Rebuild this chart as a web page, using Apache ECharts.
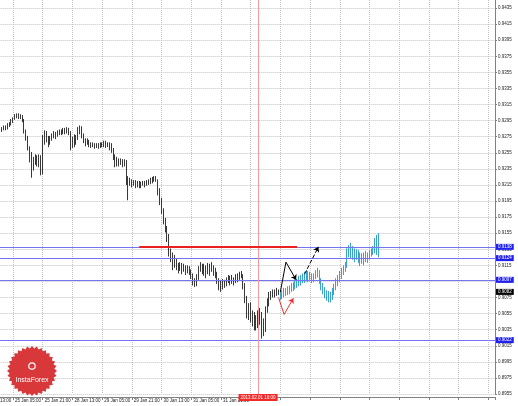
<!DOCTYPE html>
<html>
<head>
<meta charset="utf-8">
<script src="https://cdn.jsdelivr.net/npm/echarts@6/dist/echarts.min.js"></script>
<style>
  html, body { margin: 0; padding: 0; background: #fff; }
  #chart { width: 518px; height: 406px; }
</style>
</head>
<body>
<div id="chart"></div>
<script>
// hourly bars, index 0 = 25 Jan 05:00, first bar = index -7
const firstIndex = -7;
// [open, close, low, high]
const hourlyBars = [
  [0.9286, 0.9283, 0.9281, 0.9288], [0.9283, 0.9284, 0.9281, 0.9287], [0.9284, 0.9287, 0.9283, 0.9289],
  [0.9287, 0.9286, 0.9283, 0.9289], [0.9286, 0.9289, 0.9284, 0.9292], [0.9289, 0.9291, 0.9287, 0.9293],
  [0.9291, 0.9294, 0.9289, 0.9297], [0.9294, 0.9297, 0.9292, 0.9299], [0.9297, 0.9301, 0.9296, 0.9303],
  [0.9301, 0.9302, 0.9298, 0.9304], [0.9302, 0.9299, 0.9297, 0.9304], [0.9299, 0.9301, 0.9297, 0.9303],
  [0.9301, 0.9296, 0.9293, 0.9302], [0.9296, 0.9282, 0.9279, 0.9297], [0.9282, 0.9273, 0.9270, 0.9284],
  [0.9273, 0.9261, 0.9258, 0.9276], [0.9261, 0.9248, 0.9243, 0.9263], [0.9248, 0.9236, 0.9224, 0.9256],
  [0.9236, 0.9243, 0.9233, 0.9250], [0.9243, 0.9248, 0.9240, 0.9253], [0.9248, 0.9242, 0.9238, 0.9252],
  [0.9242, 0.9248, 0.9237, 0.9253], [0.9248, 0.9233, 0.9227, 0.9252], [0.9233, 0.9271, 0.9228, 0.9277],
  [0.9271, 0.9279, 0.9265, 0.9283], [0.9279, 0.9273, 0.9268, 0.9282],
  // 28 Jan
  [0.9273, 0.9268, 0.9262, 0.9276], [0.9268, 0.9272, 0.9265, 0.9276], [0.9272, 0.9276, 0.9270, 0.9279],
  [0.9276, 0.9278, 0.9273, 0.9282], [0.9278, 0.9276, 0.9272, 0.9281], [0.9276, 0.9279, 0.9275, 0.9283],
  [0.9279, 0.9281, 0.9277, 0.9284], [0.9281, 0.9279, 0.9277, 0.9284], [0.9279, 0.9282, 0.9278, 0.9286],
  [0.9282, 0.9281, 0.9278, 0.9286], [0.9281, 0.9283, 0.9279, 0.9287], [0.9283, 0.9279, 0.9277, 0.9286],
  [0.9279, 0.9265, 0.9258, 0.9282], [0.9265, 0.9271, 0.9261, 0.9275], [0.9271, 0.9267, 0.9262, 0.9278],
  [0.9267, 0.9273, 0.9265, 0.9277], [0.9273, 0.9283, 0.9271, 0.9287], [0.9283, 0.9286, 0.9278, 0.9289],
  [0.9286, 0.9277, 0.9273, 0.9288], [0.9277, 0.9271, 0.9267, 0.9279], [0.9271, 0.9268, 0.9263, 0.9273],
  [0.9268, 0.9270, 0.9265, 0.9273], [0.9270, 0.9266, 0.9262, 0.9271], [0.9266, 0.9265, 0.9261, 0.9268],
  // 29 Jan
  [0.9265, 0.9266, 0.9262, 0.9268], [0.9266, 0.9263, 0.9260, 0.9267], [0.9263, 0.9265, 0.9261, 0.9267],
  [0.9265, 0.9263, 0.9260, 0.9267], [0.9263, 0.9266, 0.9261, 0.9268], [0.9266, 0.9265, 0.9262, 0.9268],
  [0.9265, 0.9267, 0.9262, 0.9270], [0.9267, 0.9265, 0.9261, 0.9270], [0.9265, 0.9266, 0.9262, 0.9268],
  [0.9266, 0.9263, 0.9258, 0.9268], [0.9263, 0.9258, 0.9255, 0.9267], [0.9258, 0.9250, 0.9246, 0.9261],
  [0.9250, 0.9243, 0.9237, 0.9253], [0.9243, 0.9246, 0.9238, 0.9250], [0.9246, 0.9242, 0.9238, 0.9248],
  [0.9242, 0.9245, 0.9240, 0.9248], [0.9245, 0.9241, 0.9237, 0.9247], [0.9241, 0.9243, 0.9238, 0.9247],
  [0.9243, 0.9221, 0.9215, 0.9246], [0.9221, 0.9217, 0.9196, 0.9226], [0.9217, 0.9220, 0.9214, 0.9224],
  [0.9220, 0.9216, 0.9212, 0.9222], [0.9216, 0.9219, 0.9214, 0.9221], [0.9219, 0.9215, 0.9211, 0.9221],
  // 30 Jan
  [0.9215, 0.9217, 0.9212, 0.9220], [0.9217, 0.9214, 0.9211, 0.9220], [0.9214, 0.9216, 0.9211, 0.9219],
  [0.9216, 0.9217, 0.9214, 0.9220], [0.9217, 0.9215, 0.9212, 0.9220], [0.9215, 0.9217, 0.9214, 0.9221],
  [0.9217, 0.9219, 0.9215, 0.9222], [0.9219, 0.9220, 0.9216, 0.9224], [0.9220, 0.9221, 0.9217, 0.9225],
  [0.9221, 0.9224, 0.9219, 0.9226], [0.9224, 0.9221, 0.9219, 0.9226], [0.9221, 0.9209, 0.9202, 0.9222],
  [0.9209, 0.9196, 0.9190, 0.9211], [0.9196, 0.9184, 0.9179, 0.9199], [0.9184, 0.9171, 0.9166, 0.9186],
  [0.9171, 0.9161, 0.9156, 0.9174], [0.9161, 0.9151, 0.9144, 0.9164], [0.9151, 0.9134, 0.9126, 0.9154],
  [0.9134, 0.9124, 0.9119, 0.9136], [0.9124, 0.9117, 0.9109, 0.9131], [0.9117, 0.9119, 0.9112, 0.9128],
  [0.9119, 0.9114, 0.9109, 0.9123], [0.9114, 0.9112, 0.9105, 0.9118], [0.9112, 0.9115, 0.9108, 0.9119],
  // 31 Jan
  [0.9115, 0.9110, 0.9104, 0.9118], [0.9110, 0.9113, 0.9107, 0.9117], [0.9113, 0.9109, 0.9103, 0.9115],
  [0.9109, 0.9112, 0.9105, 0.9115], [0.9112, 0.9108, 0.9103, 0.9114], [0.9108, 0.9103, 0.9098, 0.9110],
  [0.9103, 0.9095, 0.9090, 0.9105], [0.9095, 0.9092, 0.9088, 0.9099], [0.9092, 0.9099, 0.9089, 0.9104],
  [0.9099, 0.9109, 0.9097, 0.9114], [0.9109, 0.9114, 0.9107, 0.9119], [0.9114, 0.9109, 0.9104, 0.9117],
  [0.9109, 0.9112, 0.9102, 0.9117], [0.9112, 0.9107, 0.9099, 0.9115], [0.9107, 0.9114, 0.9104, 0.9118],
  [0.9114, 0.9109, 0.9102, 0.9117], [0.9109, 0.9113, 0.9107, 0.9119], [0.9113, 0.9108, 0.9102, 0.9115],
  [0.9108, 0.9104, 0.9099, 0.9112], [0.9104, 0.9097, 0.9092, 0.9107], [0.9097, 0.9090, 0.9084, 0.9099],
  [0.9090, 0.9094, 0.9082, 0.9097], [0.9094, 0.9089, 0.9085, 0.9098], [0.9089, 0.9093, 0.9087, 0.9097],
  // 1 Feb
  [0.9093, 0.9097, 0.9089, 0.9100], [0.9097, 0.9099, 0.9093, 0.9103], [0.9099, 0.9094, 0.9090, 0.9102],
  [0.9094, 0.9098, 0.9092, 0.9103], [0.9098, 0.9095, 0.9090, 0.9100], [0.9095, 0.9100, 0.9093, 0.9104],
  [0.9100, 0.9098, 0.9094, 0.9105], [0.9098, 0.9102, 0.9097, 0.9107], [0.9102, 0.9103, 0.9099, 0.9108],
  [0.9103, 0.9090, 0.9085, 0.9104], [0.9090, 0.9074, 0.9068, 0.9093], [0.9074, 0.9059, 0.9049, 0.9077],
  [0.9059, 0.9064, 0.9047, 0.9068], [0.9064, 0.9053, 0.9044, 0.9069], [0.9053, 0.9047, 0.9039, 0.9059],
  [0.9047, 0.9049, 0.9034, 0.9057], [0.9049, 0.9041, 0.9034, 0.9053], [0.9041, 0.9044, 0.9037, 0.9059],
  [0.9044, 0.9053, 0.9041, 0.9062], [0.9053, 0.9034, 0.9024, 0.9057], [0.9034, 0.9037, 0.9027, 0.9049],
  [0.9037, 0.9059, 0.9032, 0.9064], [0.9059, 0.9069, 0.9056, 0.9074], [0.9069, 0.9074, 0.9064, 0.9082],
  [0.9074, 0.9078, 0.9072, 0.9083], [0.9078, 0.9082, 0.9075, 0.9085], [0.9082, 0.9079, 0.9075, 0.9085],
  [0.9079, 0.9083, 0.9077, 0.9087], [0.9083, 0.9082, 0.9078, 0.9085]
];

// projected path (blue), starts right after the last real bar
const forecastStart = 144;
const forecastBars = [
  [0.9077, 0.9080, 0.9072, 0.9083], [0.9080, 0.9078, 0.9073, 0.9084], [0.9078, 0.9083, 0.9075, 0.9087],
  [0.9083, 0.9080, 0.9077, 0.9087], [0.9080, 0.9085, 0.9078, 0.9089], [0.9085, 0.9084, 0.9079, 0.9090],
  [0.9084, 0.9089, 0.9082, 0.9093], [0.9089, 0.9088, 0.9083, 0.9094], [0.9088, 0.9093, 0.9085, 0.9098],
  [0.9093, 0.9092, 0.9087, 0.9098], [0.9092, 0.9097, 0.9089, 0.9102], [0.9097, 0.9095, 0.9090, 0.9103],
  [0.9095, 0.9100, 0.9093, 0.9105], [0.9100, 0.9098, 0.9093, 0.9107], [0.9098, 0.9103, 0.9095, 0.9109],
  [0.9103, 0.9099, 0.9094, 0.9108], [0.9099, 0.9102, 0.9095, 0.9107], [0.9102, 0.9098, 0.9093, 0.9105],
  [0.9098, 0.9100, 0.9094, 0.9105], [0.9100, 0.9104, 0.9098, 0.9109], [0.9104, 0.9107, 0.9100, 0.9112],
  [0.9107, 0.9097, 0.9092, 0.9109], [0.9097, 0.9089, 0.9084, 0.9099], [0.9089, 0.9084, 0.9079, 0.9093],
  [0.9084, 0.9079, 0.9074, 0.9088], [0.9079, 0.9075, 0.9071, 0.9084], [0.9075, 0.9078, 0.9069, 0.9083],
  [0.9078, 0.9074, 0.9069, 0.9082], [0.9074, 0.9082, 0.9072, 0.9087], [0.9082, 0.9087, 0.9078, 0.9092],
  [0.9087, 0.9094, 0.9084, 0.9099], [0.9094, 0.9098, 0.9089, 0.9103], [0.9098, 0.9102, 0.9094, 0.9108],
  [0.9102, 0.9107, 0.9098, 0.9112], [0.9107, 0.9109, 0.9103, 0.9115], [0.9109, 0.9114, 0.9107, 0.9119],
  [0.9114, 0.9131, 0.9112, 0.9136], [0.9131, 0.9134, 0.9125, 0.9140], [0.9134, 0.9129, 0.9124, 0.9143],
  [0.9129, 0.9131, 0.9122, 0.9139], [0.9131, 0.9126, 0.9119, 0.9136], [0.9126, 0.9130, 0.9122, 0.9135],
  [0.9130, 0.9125, 0.9118, 0.9134], [0.9125, 0.9122, 0.9114, 0.9131], [0.9122, 0.9125, 0.9117, 0.9130],
  [0.9125, 0.9123, 0.9115, 0.9131], [0.9123, 0.9126, 0.9119, 0.9133], [0.9126, 0.9124, 0.9118, 0.9131],
  [0.9124, 0.9129, 0.9122, 0.9134], [0.9129, 0.9131, 0.9126, 0.9136], [0.9131, 0.9134, 0.9128, 0.9139],
  [0.9134, 0.9140, 0.9130, 0.9149], [0.9140, 0.9146, 0.9128, 0.9153], [0.9146, 0.9149, 0.9125, 0.9155]
];

// time axis labels, one every 16 bars starting at index -16
const timeLabels = ["24 Jan 13:00", "25 Jan 05:00", "25 Jan 21:00", "28 Jan 13:00", "29 Jan 05:00",
  "29 Jan 21:00", "30 Jan 13:00", "31 Jan 05:00", "31 Jan 21:00"];

const levels = [0.9138, 0.9124, 0.9097, 0.9022];
const lastPrice = 0.9082;
const resistanceLine = [[68, 0.9138], [153, 0.9138]];
const nowIndex = 132;
const nowLabel = "2013.02.01 16:00";

// hand drawn arrows, [bar index, price]
const blackPath = [[144, 0.9082], [147, 0.9119], [152.5, 0.9097]];
const dashedPath = [[157, 0.9104], [164.5, 0.9138]];
const redPath = [[143, 0.9075], [146, 0.9054], [151, 0.9074]];

function arrowSegments(path, color, type) {
  const segs = [];
  for (let k = 0; k < path.length - 1; k++) {
    const last = k === path.length - 2;
    segs.push([
      { coord: path[k], symbol: 'none' },
      { coord: path[k + 1], symbol: last ? 'arrow' : 'none', symbolSize: 5,
        lineStyle: { color: color, width: 1, type: type } }
    ]);
  }
  return segs;
}

const labelFont = { fontFamily: 'Liberation Sans', fontSize: 4.5 };

const chart = echarts.init(document.getElementById('chart'));

// InstaForex badge
const badgePts = [];
for (let k = 0; k < 64; k++) {
  const r = k % 2 === 0 ? 25 : 22.5;
  const a = k / 64 * Math.PI * 2;
  badgePts.push([32 + r * Math.cos(a), 371 + r * Math.sin(a)]);
}

chart.setOption({
  animation: false,
  backgroundColor: '#fff',
  grid: { left: -16.7, right: 23, top: -8, bottom: 12, containLabel: false, outerBoundsMode: 'none' },
  xAxis: {
    type: 'value',
    min: -16,
    max: 259.6,
    interval: 16,
    offset: 3,
    axisLine: { onZero: false, lineStyle: { color: '#808080', width: 1 } },
    axisTick: { show: true, length: 3, lineStyle: { color: '#808080' } },
    splitLine: { show: true, lineStyle: { type: 'dotted', color: '#c4c4c4' } },
    axisLabel: Object.assign({
      color: '#222',
      align: 'left',
      margin: 1,
      padding: [0, 0, 0, 2],
      formatter: v => timeLabels[(v + 16) / 16] || ''
    }, labelFont)
  },
  yAxis: {
    type: 'value',
    position: 'right',
    min: 0.8955,
    max: 0.9455,
    interval: 0.002,
    axisLine: { show: true, onZero: false, lineStyle: { color: '#808080', width: 1 } },
    axisTick: { show: true, length: 2, lineStyle: { color: '#808080' } },
    splitLine: { show: true, lineStyle: { type: 'dotted', color: '#c4c4c4' } },
    axisLabel: Object.assign({
      color: '#222',
      margin: 3,
      formatter: v => v.toFixed(4)
    }, labelFont)
  },
  series: [
    {
      type: 'line',
      data: [],
      silent: true,
      markLine: {
        silent: true,
        precision: 4,
        symbol: 'none',
        lineStyle: { color: '#7474f2', width: 1, type: 'solid' },
        label: Object.assign({
          position: 'end', distance: 1, color: '#fff', backgroundColor: '#2020f0',
          padding: [1, 2, 0, 2]
        }, labelFont),
        data: levels.map(v => ({ yAxis: v, label: { formatter: v.toFixed(4) } })).concat([
          { yAxis: lastPrice, lineStyle: { color: 'rgba(0,0,0,0)' },
            label: { formatter: lastPrice.toFixed(4), backgroundColor: '#000', opacity: 1 } },
          { xAxis: nowIndex, lineStyle: { color: '#f49a9a', width: 1 },
            label: { position: 'start', formatter: nowLabel, backgroundColor: '#f22a2a', distance: 0,
              padding: [1, 2, 1, 2] } },
          [{ coord: resistanceLine[0] }, { coord: resistanceLine[1],
            lineStyle: { color: '#e82020', width: 2 }, label: { show: false } }]
        ])
      }
    },
    {
      type: 'candlestick',
      data: hourlyBars.map((b, k) => [firstIndex + k].concat(b)),
      encode: { x: 0, y: [1, 2, 3, 4] },
      barWidth: 0.4,
      itemStyle: { color: '#222', color0: '#222', borderColor: '#222', borderColor0: '#222', borderWidth: 0.9 }
    },
    {
      type: 'candlestick',
      data: forecastBars.map((b, k) => [forecastStart + k].concat(b)),
      encode: { x: 0, y: [1, 2, 3, 4] },
      barWidth: 1.2,
      itemStyle: { color: '#3aa3c9', color0: '#3aa3c9', borderColor: '#3aa3c9', borderColor0: '#3aa3c9', borderWidth: 1 }
    },
    {
      type: 'line',
      data: [],
      silent: true,
      markLine: {
        silent: true,
        precision: 4,
        label: { show: false },
        data: arrowSegments(blackPath, '#000', 'solid')
          .concat(arrowSegments(dashedPath, '#000', 'dashed'))
          .concat(arrowSegments(redPath, '#f03030', 'solid'))
      }
    }
  ],
  graphic: [
    { type: 'polygon', shape: { points: badgePts }, style: { fill: '#d8383a' }, z: 100 },
    { type: 'circle', shape: { cx: 32, cy: 366, r: 3.2 }, style: { fill: 'none', stroke: '#fff', lineWidth: 1.2 }, z: 101 },
    { type: 'text', x: 32, y: 380, z: 101,
      style: { text: 'InstaForex', fill: '#fff', font: '7px "Liberation Sans"', textAlign: 'center', textVerticalAlign: 'middle' } }
  ]
});
</script>
</body>
</html>
